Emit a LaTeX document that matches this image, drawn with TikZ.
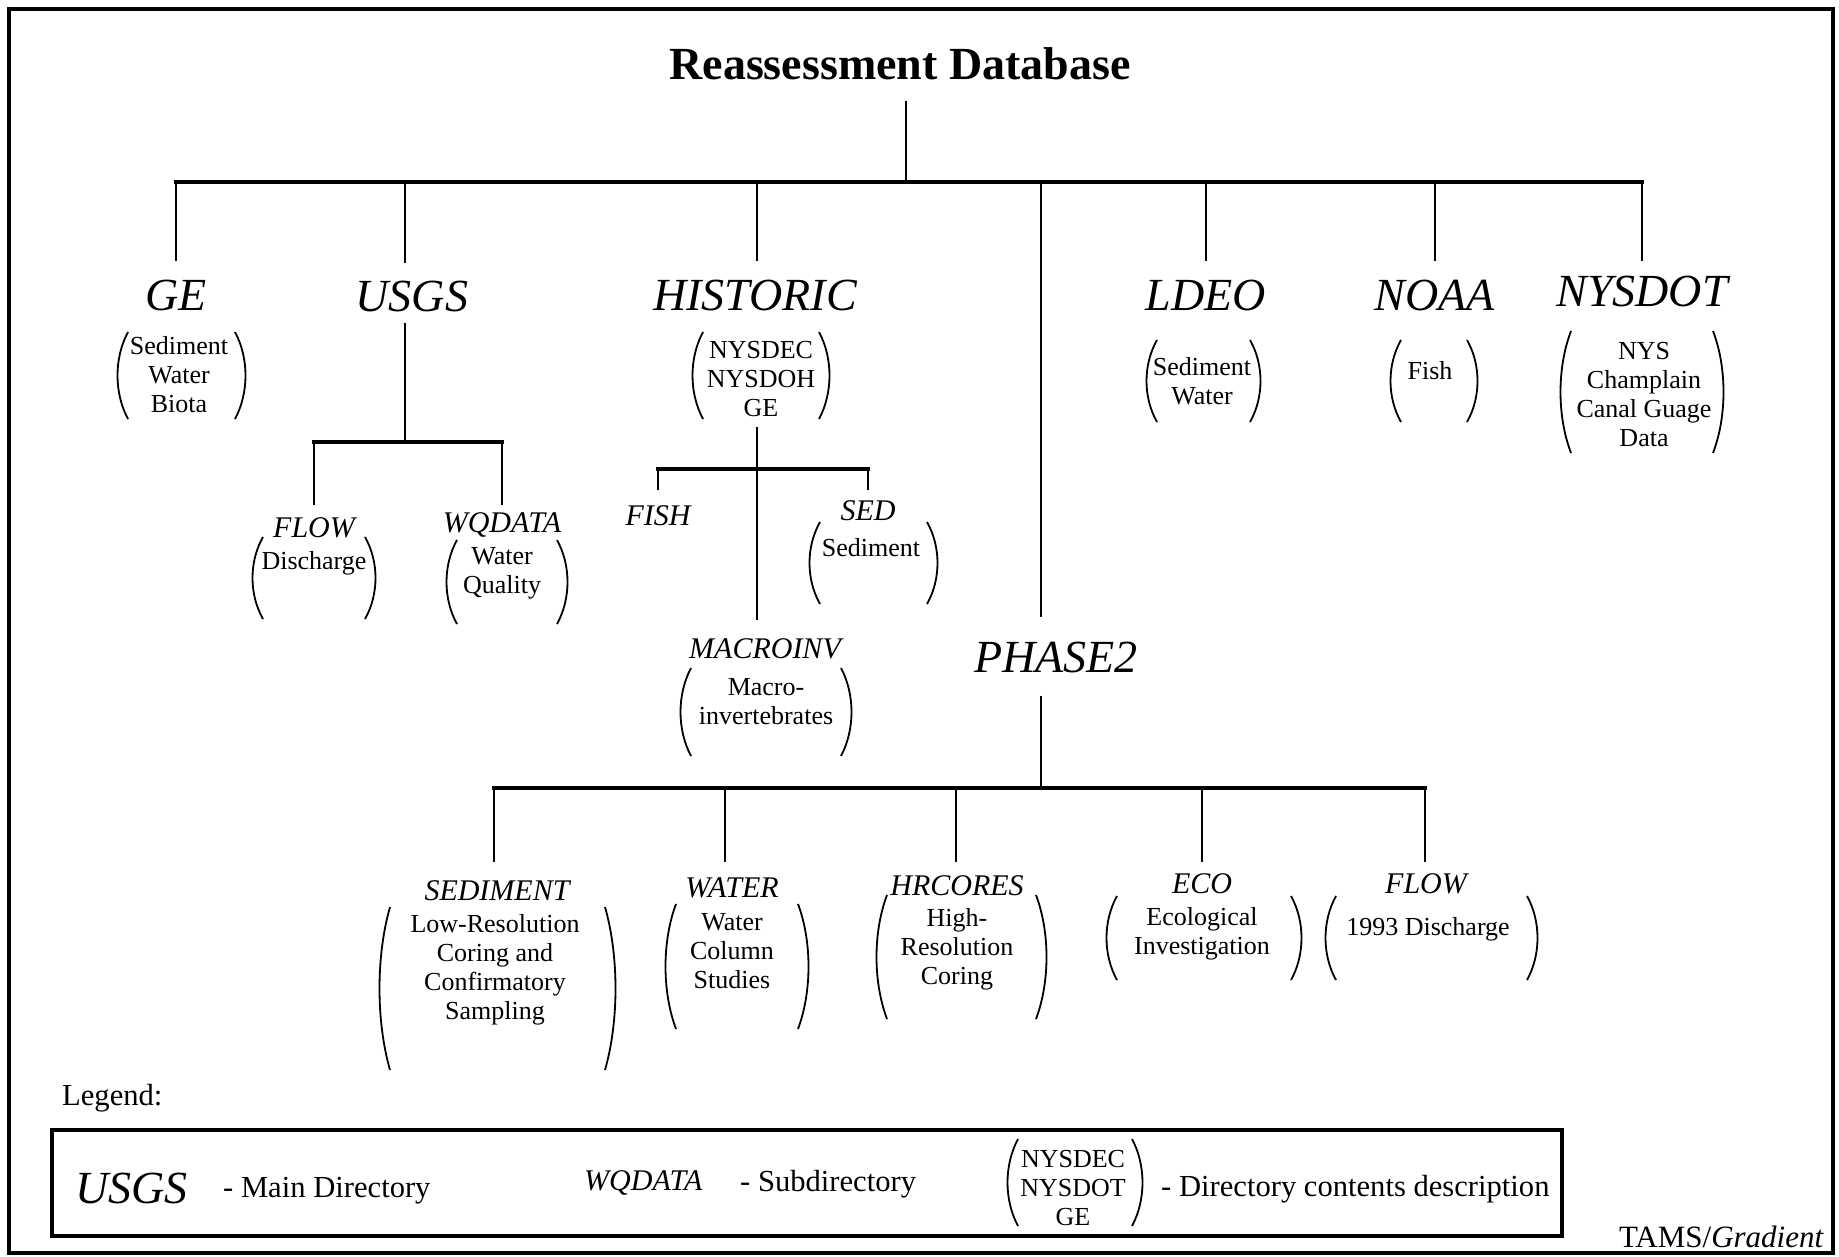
\documentclass[tikz,border=0pt]{standalone}
\usepackage{fontspec}
\setmainfont{Liberation Serif}
\usetikzlibrary{calc}
\newcommand\fsz[2]{\fontsize{#1}{#2}\selectfont}
\newcommand\drawparens[1]{%
  \draw[parenline] ([xshift=11pt]#1.north west) .. controls ([xshift=-3pt]$(#1.north west)!0.3!(#1.south west)$) and ([xshift=-3pt]$(#1.north west)!0.7!(#1.south west)$) .. ([xshift=11pt]#1.south west);
  \draw[parenline] ([xshift=-11pt]#1.north east) .. controls ([xshift=3pt]$(#1.north east)!0.3!(#1.south east)$) and ([xshift=3pt]$(#1.north east)!0.7!(#1.south east)$) .. ([xshift=-11pt]#1.south east);
}
\begin{document}
\begin{tikzpicture}[x=1pt,y=-1pt,
  conn/.style={line width=2.4pt},
  busline/.style={line width=3.6pt, line cap=rect},
  parenline/.style={line width=1.8pt},
  pframe/.style={inner sep=0pt, outer sep=0pt},
  mainlbl/.style={font=\fsz{46}{50}\itshape, inner sep=0pt, anchor=base},
  sublbl/.style={font=\fsz{30}{34}\itshape, inner sep=0pt, anchor=base},
  desc/.style={font=\fsz{26}{29}, align=center, inner sep=0pt},
  legtext/.style={font=\fsz{30.6}{34}, inner sep=0pt, anchor=base west},
  ]
\useasboundingbox (0,0) rectangle (1839,1257);
\draw[line width=4.5pt] (9,9) rectangle (1833,1253);

% title
\node[font=\fsz{46}{50}\bfseries, inner sep=0pt, anchor=base] (title) at (900,80) {Reassessment Database};
\coordinate (rootJ) at (906,182);
\draw[conn] ([yshift=-20pt]title.south -| rootJ) -- (rootJ);

% main labels
\node[mainlbl] (ge) at (176,310) {GE};
\node[mainlbl] (usgs) at (412,312) {USGS};
\node[mainlbl] (historic) at (755,310) {HISTORIC};
\node[mainlbl] (ldeo) at (1206,310) {LDEO};
\node[mainlbl] (noaa) at (1435,310) {NOAA};
\node[mainlbl] (nysdot) at (1642,307) {NYSDOT};
\node[mainlbl] (phase2) at (1056,672) {PHASE2};

\coordinate (usJ) at (405,442);
\coordinate (hiJ) at (757,469);
\coordinate (p2J) at (1041,788);

\draw[busline] (ge.north |- rootJ) -- (nysdot.north |- rootJ);
\draw[conn] (ge.north |- rootJ) -- ([yshift=18pt]ge.north);
\draw[conn] (usJ |- rootJ) -- ([yshift=18pt]usgs.north -| usJ);
\draw[conn] (hiJ |- rootJ) -- ([yshift=18pt]historic.north -| hiJ);
\draw[conn] (p2J |- rootJ) -- ([yshift=24pt]phase2.north -| p2J);
\draw[conn] (ldeo.north |- rootJ) -- ([yshift=18pt]ldeo.north);
\draw[conn] (noaa.north |- rootJ) -- ([yshift=18pt]noaa.north);
\draw[conn] (nysdot.north |- rootJ) -- ([yshift=15pt]nysdot.north);

% GE
\node[pframe, minimum width=129pt, minimum height=87pt] (geP) at (181.5,375.5) {};
\drawparens{geP}
\node[desc] (geD) at (179,375) {Sediment\\Water\\Biota};

% USGS subtree
\draw[conn] ([yshift=-10pt]usgs.south -| usJ) -- (usJ);
\node[sublbl] (flow) at (314,537) {FLOW};
\node[sublbl] (wqdata) at (502,532) {WQDATA};
\draw[busline] (flow.north |- usJ) -- (wqdata.north |- usJ);
\draw[conn] (flow.north |- usJ) -- ([yshift=12pt]flow.north);
\draw[conn] (wqdata.north |- usJ) -- ([yshift=7pt]wqdata.north);
\node[pframe, minimum width=124pt, minimum height=82pt] (flowP) at (314,578) {};
\drawparens{flowP}
\node[desc] (flowD) at (314,563) {Discharge};
\node[pframe, minimum width=122pt, minimum height=84pt] (wqP) at (507,582) {};
\drawparens{wqP}
\node[desc] (wqD) at (502,573) {Water\\Quality};

% HISTORIC
\node[pframe, minimum width=138pt, minimum height=87pt] (hiP) at (761,375.5) {};
\drawparens{hiP}
\node[desc] (hiD) at (761,379) {NYSDEC\\NYSDOH\\GE};
\node[sublbl] (fish) at (658,525) {FISH};
\node[sublbl] (sed) at (868,520) {SED};
\node[sublbl] (macroinv) at (765,658) {MACROINV};
\draw[conn] ([yshift=-8pt]hiP.south -| hiJ) -- ([yshift=18pt]macroinv.north -| hiJ);
\draw[busline] (fish.north |- hiJ) -- (sed.north |- hiJ);
\draw[conn] (fish.north |- hiJ) -- ([yshift=15pt]fish.north);
\draw[conn] (sed.north |- hiJ) -- ([yshift=10pt]sed.north);
\node[pframe, minimum width=129pt, minimum height=82pt] (sedP) at (873.5,563) {};
\drawparens{sedP}
\node[desc] (sedD) at (871,548) {Sediment};
\node[pframe, minimum width=172pt, minimum height=88pt] (macP) at (766,712) {};
\drawparens{macP}
\node[desc] (macD) at (766,702) {Macro-\\invertebrates};

% PHASE2 subtree
\draw[conn] ([yshift=-23pt]phase2.south -| p2J) -- (p2J);
\coordinate (d1) at (494,788);
\coordinate (d2) at (725,788);
\coordinate (d3) at (956,788);
\coordinate (d4) at (1202,788);
\coordinate (d5) at (1425,788);
\draw[busline] (d1) -- (d5);
\node[sublbl] (sediment) at (497,900) {SEDIMENT};
\node[sublbl] (water) at (732,897) {WATER};
\node[sublbl] (hrcores) at (957,895) {HRCORES};
\node[sublbl] (eco) at (1202,893) {ECO};
\node[sublbl] (flowb) at (1426,893) {FLOW};
\draw[conn] (d1) -- ([yshift=18pt]sediment.north -| d1);
\draw[conn] (d2) -- ([yshift=15pt]water.north -| d2);
\draw[conn] (d3) -- ([yshift=13pt]hrcores.north -| d3);
\draw[conn] (d4) -- ([yshift=11pt]eco.north -| d4);
\draw[conn] (d5) -- ([yshift=11pt]flowb.north -| d5);

\node[pframe, minimum width=237pt, minimum height=163pt] (sedimentP) at (497.5,988.5) {};
\drawparens{sedimentP}
\node[desc] (sedimentD) at (495,969.5) {Low-Resolution\\Coring and\\Confirmatory\\Sampling};
\node[pframe, minimum width=144pt, minimum height=125pt] (waterP) at (737,966.5) {};
\drawparens{waterP}
\node[desc] (waterD) at (732,951) {Water\\Column\\Studies};
\node[pframe, minimum width=171pt, minimum height=124pt] (hrP) at (961.5,957) {};
\drawparens{hrP}
\node[desc] (hrD) at (957,949) {High-\\Resolution\\Coring};
\node[pframe, minimum width=196pt, minimum height=84pt] (ecoP) at (1204,938) {};
\drawparens{ecoP}
\node[desc] (ecoD) at (1202,934) {Ecological\\Investigation};
\node[pframe, minimum width=213pt, minimum height=84pt] (flowbP) at (1431.5,938) {};
\drawparens{flowbP}
\node[desc] (flowbD) at (1428,929) {1993 Discharge};

% right side
\node[pframe, minimum width=115pt, minimum height=82pt] (ldeoP) at (1203.5,381) {};
\drawparens{ldeoP}
\node[desc] (ldeoD) at (1202,381.5) {Sediment\\Water};
\node[pframe, minimum width=88pt, minimum height=82pt] (noaaP) at (1434,381) {};
\drawparens{noaaP}
\node[desc] (noaaD) at (1430,371) {Fish};
\node[pframe, minimum width=164pt, minimum height=122pt] (nysdotP) at (1642,392) {};
\drawparens{nysdotP}
\node[desc] (nysdotD) at (1644,395) {NYS\\Champlain\\Canal Guage\\Data};

% legend
\node[legtext] (legend) at (62,1105) {Legend:};
\draw[line width=3.6pt] (52,1130) rectangle (1562,1236);
\node[mainlbl, anchor=base west] (lgUsgs) at (75,1203) {USGS};
\node[legtext] (lgMain) at (223,1197) {- Main Directory};
\node[sublbl, anchor=base west] (lgWq) at (584,1190) {WQDATA};
\node[legtext] (lgSub) at (740,1191) {- Subdirectory};
\node[pframe, minimum width=136pt, minimum height=87pt] (lgP) at (1075,1182.5) {};
\drawparens{lgP}
\node[desc] (lgD) at (1073,1188) {NYSDEC\\NYSDOT\\GE};
\node[legtext] (lgDesc) at (1161,1196) {- Directory contents description};
\node[font=\fsz{31}{35}, inner sep=0pt, anchor=base east] (credit) at (1824,1247) {TAMS/\textit{Gradient}};
\end{tikzpicture}
\end{document}
